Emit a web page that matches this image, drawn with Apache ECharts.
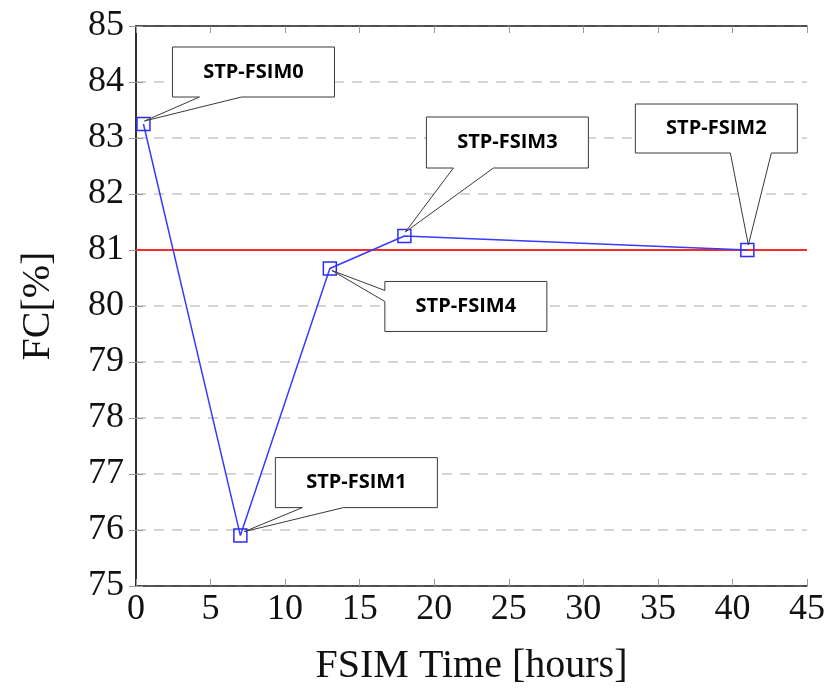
<!DOCTYPE html>
<html>
<head>
<meta charset="utf-8">
<script src="https://cdn.jsdelivr.net/npm/echarts@6/dist/echarts.min.js"></script>
<style>
  html, body { margin: 0; padding: 0; background: #fff; }
  #chart { width: 829px; height: 693px; }
</style>
</head>
<body>
<div id="chart"></div>
<script>
// data
const fsimTime = [0.5, 7, 13, 18, 41]
const faultCoverage = [83.25, 75.9, 80.67, 81.25, 81.0]
const pointLabels = ['STP-FSIM0', 'STP-FSIM1', 'STP-FSIM4', 'STP-FSIM3', 'STP-FSIM2']
const targetCoverage = 81
const xRange = [0, 45]
const yRange = [75, 85]

// callout boxes, pixel offsets from their point (same order as pointLabels)
const calloutLayout = [
  { dx: 29, dy: -77, w: 162, h: 50, side: 'bottom', b0: 27, b1: 69, tx: 1, ty: -3 },
  { dx: 35, dy: -78, w: 162, h: 50, side: 'bottom', b0: 27, b1: 68, tx: 4, ty: -4 },
  { dx: 55, dy: 13, w: 162, h: 50, side: 'left', b0: 9, b1: 20, tx: 2, ty: 2 },
  { dx: 22, dy: -119, w: 162, h: 51, side: 'bottom', b0: 27, b1: 67, tx: 1, ty: -4 },
  { dx: -112, dy: -146, w: 162, h: 49, side: 'bottom', b0: 95, b1: 136, tx: 1, ty: -5 }
]

const points = fsimTime.map((x, i) => [x, faultCoverage[i]])
const serif = '"Liberation Serif", "Times New Roman", serif'
const frame = { show: true, lineStyle: { color: '#222', width: 1.5 } }
const tick = { show: true, inside: true, length: 7, lineStyle: { color: '#999', width: 1 } }

function axisX(pos, labels) {
  return {
    type: 'value', position: pos, min: xRange[0], max: xRange[1], interval: 5,
    axisLine: frame, axisTick: tick, splitLine: { show: false },
    axisLabel: { show: labels, fontFamily: serif, fontSize: 36, color: '#111', margin: 6 },
    name: labels ? 'FSIM Time [hours]' : '', nameLocation: 'middle', nameGap: 60,
    nameTextStyle: { fontFamily: serif, fontSize: 40, color: '#111' }
  }
}
function axisY(pos, labels) {
  return {
    type: 'value', position: pos, min: yRange[0], max: yRange[1], interval: 1,
    axisLine: frame, axisTick: tick,
    splitLine: { show: labels, lineStyle: { color: '#c8c8c8', width: 1.5, type: [10, 8] } },
    axisLabel: { show: labels, fontFamily: serif, fontSize: 36, color: '#111', margin: 12 },
    name: labels ? 'FC[%]' : '', nameLocation: 'middle', nameGap: 78,
    nameTextStyle: { fontFamily: serif, fontSize: 40, color: '#111' }
  }
}

function renderCallout(params, api) {
  const p = api.coord([api.value(0), api.value(1)])
  const c = calloutLayout[params.dataIndex]
  const x0 = p[0] + c.dx, y0 = p[1] + c.dy
  const x1 = x0 + c.w, y1 = y0 + c.h
  const tip = [p[0] + c.tx, p[1] + c.ty]
  let pts
  if (c.side === 'bottom') {
    pts = [[x0, y0], [x1, y0], [x1, y1], [x0 + c.b1, y1], tip, [x0 + c.b0, y1], [x0, y1]]
  } else {
    pts = [[x0, y0], [x1, y0], [x1, y1], [x0, y1], [x0, y0 + c.b1], tip, [x0, y0 + c.b0]]
  }
  return {
    type: 'group',
    children: [
      { type: 'polygon', shape: { points: pts }, style: { fill: '#fff', stroke: '#3a3a3a', lineWidth: 1 } },
      {
        type: 'text',
        style: {
          text: pointLabels[params.dataIndex], x: (x0 + x1) / 2, y: (y0 + y1) / 2,
          align: 'center', verticalAlign: 'middle',
          font: 'bold 20px "Open Sans", "Liberation Sans", sans-serif', fill: '#000'
        }
      }
    ]
  }
}

const chart = echarts.init(document.getElementById('chart'), null, { renderer: 'canvas' })
chart.setOption({
  animation: false,
  backgroundColor: '#fff',
  grid: { left: 136, right: 22, top: 26, bottom: 107 },
  xAxis: [axisX('bottom', true), axisX('top', false)],
  yAxis: [axisY('left', true), axisY('right', false)],
  series: [
    {
      type: 'line',
      data: [[xRange[0], targetCoverage], [xRange[1], targetCoverage]],
      showSymbol: false, silent: true,
      lineStyle: { color: '#ff2a2a', width: 2 }, z: 2
    },
    {
      type: 'line',
      data: points,
      symbol: 'rect', symbolSize: 13,
      lineStyle: { color: '#3a3aff', width: 1.5 },
      itemStyle: { color: 'rgba(0,0,0,0)', borderColor: '#2b2bff', borderWidth: 1.5 },
      z: 3
    },
    {
      type: 'custom',
      data: points,
      renderItem: renderCallout,
      z: 4
    }
  ]
})
</script>
</body>
</html>
